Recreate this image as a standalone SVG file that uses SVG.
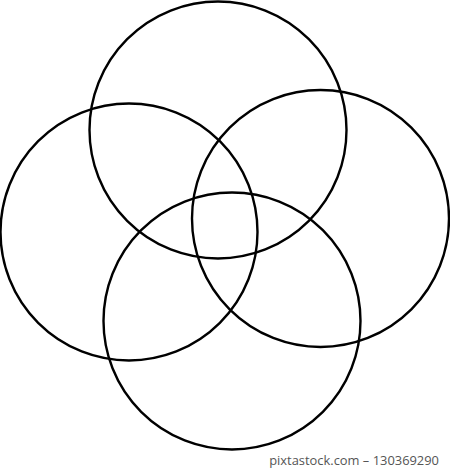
<svg xmlns="http://www.w3.org/2000/svg" width="450" height="469" viewBox="0 0 450 469">
<style>
.c{fill:none;stroke:#000;stroke-width:2.4}
.t{font-family:"Open Sans","Noto Sans",sans-serif;font-size:12.9px;fill:#555}
</style>
<rect width="450" height="469" fill="#fff"/>
<g id="top"><circle class="c" cx="218" cy="130" r="128.5"/></g>
<g id="left"><circle class="c" cx="129" cy="232" r="128.5"/></g>
<g id="right"><circle class="c" cx="320.5" cy="218.5" r="128.5"/></g>
<g id="bottom"><circle class="c" cx="232" cy="321" r="128.5"/></g>
<g id="connectors"/>
<text class="t" x="439" y="465" text-anchor="end">pixtastock.com – 130369290</text>
</svg>
